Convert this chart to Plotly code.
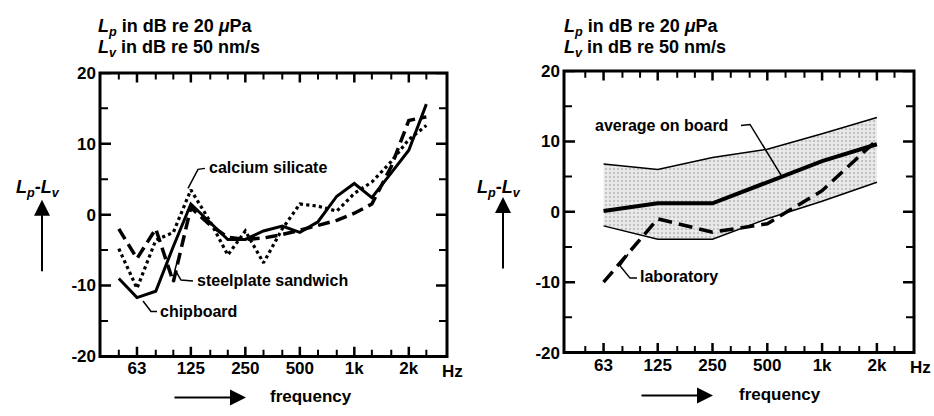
import plotly.graph_objects as go

# ---------------- data ----------------
freq_third = [50, 63, 80, 100, 125, 160, 200, 250, 315, 400, 500, 630, 800, 1000, 1250, 1600, 2000, 2500]
chipboard = [-9.0, -11.7, -10.8, -4.5, 1.5, -1.2, -3.5, -3.5, -2.3, -1.6, -2.5, -1.0, 2.6, 4.4, 2.4, 5.9, 9.1, 15.6]
calcium_silicate = [-4.8, -10.4, -3.6, -2.5, 3.5, -1.0, -5.7, -2.3, -6.8, -2.0, 1.5, 1.2, 0.5, 3.0, 4.6, 7.5, 10.6, 12.6]
steelplate_sandwich = [-2.0, -6.2, -2.0, -9.5, 1.0, -1.5, -3.2, -3.5, -3.3, -2.8, -2.2, -1.5, -0.8, 0.2, 1.5, 6.8, 13.3, 13.8]

freq_oct = [63, 125, 250, 500, 1000, 2000]
band_upper = [6.8, 6.0, 7.7, 8.9, 11.1, 13.4]
band_lower = [-2.0, -3.9, -3.9, -1.0, 1.5, 4.2]
average_on_board = [0.1, 1.2, 1.2, 4.2, 7.2, 9.6]
laboratory = [-10.0, -1.0, -2.9, -1.7, 3.0, 10.2]

x_tickvals = [63, 125, 250, 500, 1000, 2000]
x_ticktext = ["63", "125", "250", "500", "1k", "2k"]
x_minor = [50, 80, 100, 160, 200, 315, 400, 630, 800, 1250, 1600, 2500]
y_tickvals = [-20, -10, 0, 10, 20]
y_ticktext = ["-20", "-10", "0", "10", "20"]
y_minor = [-15, -5, 5, 15]

W, H = 934, 416
FONT = "Liberation Sans"
INK = "#000000"
Y_RANGE = [-20, 20]
RNG_L = [1.595, 3.512]
RNG_R = [1.582, 3.505]


def px(x):
    return x / W


def py(y):
    return 1 - y / H


fig = go.Figure()

# left panel
fig.add_trace(go.Scatter(x=freq_third, y=calcium_silicate, mode="lines",
                         line=dict(color=INK, width=3.2, dash="dot"), xaxis="x", yaxis="y"))
fig.add_trace(go.Scatter(x=freq_third, y=steelplate_sandwich, mode="lines",
                         line=dict(color=INK, width=3.5, dash="12px,6px"), xaxis="x", yaxis="y"))
fig.add_trace(go.Scatter(x=freq_third, y=chipboard, mode="lines",
                         line=dict(color=INK, width=3), xaxis="x", yaxis="y"))

# right panel
fig.add_trace(go.Scatter(x=freq_oct, y=band_lower, mode="lines",
                         line=dict(color=INK, width=1.5), xaxis="x2", yaxis="y2"))
fig.add_trace(go.Scatter(x=freq_oct, y=band_upper, mode="lines", fill="tonexty",
                         fillcolor="#eeeeee",
                         fillpattern=dict(shape=".", fgcolor="#9a9a9a", bgcolor="#ebebeb",
                                          size=4, solidity=0.3),
                         line=dict(color=INK, width=1.5), xaxis="x2", yaxis="y2"))
fig.add_trace(go.Scatter(x=freq_oct, y=average_on_board, mode="lines",
                         line=dict(color=INK, width=4), xaxis="x2", yaxis="y2"))
fig.add_trace(go.Scatter(x=freq_oct, y=laboratory, mode="lines",
                         line=dict(color=INK, width=3.5, dash="14px,7px"), xaxis="x2", yaxis="y2"))


# inward tick marks on all four sides, drawn as line traces in axis units
def tick_traces(xr, yr, xrng, pw, ph):
    ys = Y_RANGE[1] - Y_RANGE[0]
    xs = xrng[1] - xrng[0]
    lo, hi = 10 ** xrng[0], 10 ** xrng[1]
    for fvals, vvals, ln, wd in ((x_tickvals, y_tickvals, 10, 2.5), (x_minor, y_minor, 7, 2)):
        tx, ty = [], []
        dy = ln / ph * ys
        for f in fvals:
            tx += [f, f, None, f, f, None]
            ty += [Y_RANGE[0], Y_RANGE[0] + dy, None, Y_RANGE[1], Y_RANGE[1] - dy, None]
        k = 10 ** ((ln + 1) / pw * xs)
        for v in vvals:
            tx += [lo, lo * k, None, hi, hi / k, None]
            ty += [v, v, None, v, v, None]
        fig.add_trace(go.Scatter(x=tx, y=ty, mode="lines", line=dict(color=INK, width=wd),
                                 xaxis=xr, yaxis=yr, hoverinfo="skip", connectgaps=False,
                                 cliponaxis=False))


tick_traces("x", "y", RNG_L, 347, 297)
tick_traces("x2", "y2", RNG_R, 350, 295)

TICKFONT = dict(family=FONT, size=17, color=INK, weight="bold")


def xaxis_major(domain, rng, anchor):
    return dict(type="log", domain=domain, range=rng, anchor=anchor, tickmode="array",
                tickvals=x_tickvals, ticktext=x_ticktext, ticks="", showline=False,
                showgrid=False, zeroline=False, ticklabelstandoff=0, tickfont=TICKFONT)


def yaxis_major(domain, anchor):
    return dict(domain=domain, range=Y_RANGE, anchor=anchor, tickmode="array",
                tickvals=y_tickvals, ticktext=y_ticktext, ticks="", showline=False,
                showgrid=False, zeroline=False, ticklabelstandoff=3, tickfont=TICKFONT)


fig.update_layout(
    width=W, height=H, autosize=False,
    margin=dict(l=0, r=0, t=0, b=0),
    paper_bgcolor="white", plot_bgcolor="white", showlegend=False,
    xaxis=xaxis_major([px(100), px(447)], RNG_L, "y"),
    yaxis=yaxis_major([py(364), py(67)], "x"),
    xaxis2=xaxis_major([px(564), px(914)], RNG_R, "y2"),
    yaxis2=yaxis_major([py(360), py(65)], "x2"),
)

annos = []


def text(x, y, s, size=16, xanchor="left", weight="bold"):
    annos.append(dict(x=px(x), y=py(y), xref="paper", yref="paper", text=s, showarrow=False,
                      xanchor=xanchor, yanchor="middle",
                      font=dict(family=FONT, size=size, color=INK, weight=weight)))


def arrow(x0, y0, x1, y1):
    # tail (x0,y0) -> head (x1,y1), pixel coords
    annos.append(dict(x=px(x1), y=py(y1), xref="paper", yref="paper", ax=x0 - x1, ay=y0 - y1,
                      axref="pixel", ayref="pixel", text="", showarrow=True, arrowhead=2,
                      arrowsize=1.6, arrowwidth=2, arrowcolor=INK))


# headers
for x0 in (96, 562):
    text(x0, 19, "<i>L</i><sub><i>p</i></sub> in dB re 20 <i>μ</i>Pa", size=18)
    text(x0, 41, "<i>L</i><sub><i>v</i></sub> in dB re 50 nm/s", size=18)

# y labels and arrows
text(38, 188, "<i>L</i><sub><i>p</i></sub>-<i>L</i><sub><i>v</i></sub>", size=18, xanchor="center")
text(499, 188, "<i>L</i><sub><i>p</i></sub>-<i>L</i><sub><i>v</i></sub>", size=18, xanchor="center")
arrow(42, 273, 42, 200)
arrow(503, 270, 503, 197)

# frequency labels
text(268, 406, "frequency", size=17)
text(737, 404, "frequency", size=17)
arrow(173, 407, 246, 407)
arrow(640, 405, 713, 405)

# Hz
text(452, 380, "Hz", size=17, xanchor="center")
text(933, 376, "Hz", size=17, xanchor="right")

# series labels
text(207, 166, "calcium silicate", size=16)
text(195, 285, "steelplate sandwich", size=16)
text(158, 317, "chipboard", size=16)
text(593, 122, "average on board", size=16)
text(638, 280, "laboratory", size=16)

fig.update_layout(annotations=annos)

# leader lines (pixel positions -> paper)
leaders = [
    [(205, 167), (198, 168), (188, 188)],
    [(193, 285), (181, 284), (175, 273), (178, 262)],
    [(157, 317), (151, 317), (143, 306)],
    [(741, 122), (750, 121), (781, 174)],
    [(637, 282), (630, 282), (620, 269), (628, 257)],
]
shapes = []
for pts in leaders:
    path = "M " + " L ".join(f"{px(a):.5f},{py(b):.5f}" for a, b in pts)
    shapes.append(dict(type="path", xref="paper", yref="paper", path=path,
                       line=dict(color=INK, width=1.5)))
# heavy frame around each panel
for xr, yr in (("x", "y"), ("x2", "y2")):
    shapes.append(dict(type="rect", xref=f"{xr} domain", yref=f"{yr} domain",
                       x0=0, x1=1, y0=0, y1=1, line=dict(color=INK, width=3),
                       fillcolor="rgba(0,0,0,0)", layer="above"))
fig.update_layout(shapes=shapes)

fig.write_html("out.html", config={"displayModeBar": False},
               post_script="document.body.style.margin='0px';document.body.style.overflow='hidden';")
